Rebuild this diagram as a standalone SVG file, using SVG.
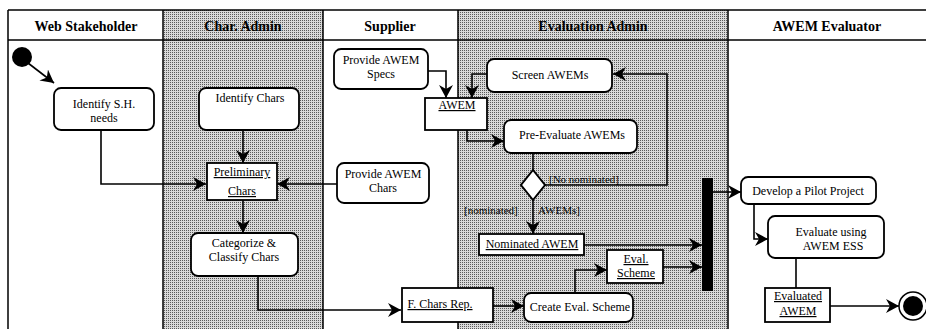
<svg xmlns="http://www.w3.org/2000/svg" width="926" height="329" viewBox="0 0 926 329" font-family="'Liberation Serif', 'Times New Roman', 'DejaVu Serif', serif">
<style>
text{font-family:"Liberation Serif","Times New Roman","DejaVu Serif",serif;fill:#000}
.hd{font-size:14px;font-weight:bold;text-anchor:middle}
.t{font-size:12px;text-anchor:middle}
.s{font-size:11px}
.u{text-decoration:underline}
.box{fill:#fff;stroke:#000;stroke-width:1.8}
.lane{stroke:#000;stroke-width:1.5;fill:none}
.c{fill:none;stroke:#000;stroke-width:1.6}
.ca{fill:none;stroke:#000;stroke-width:1.6;marker-end:url(#ah)}
</style>
<defs>
<pattern id="ht" width="2" height="2" patternUnits="userSpaceOnUse">
<rect width="2" height="2" fill="#d9d9d9"/>
<rect width="1" height="1" fill="#5a5a5a"/>
</pattern>
<marker id="ah" markerUnits="userSpaceOnUse" markerWidth="14" markerHeight="14" refX="13" refY="7" orient="auto">
<path d="M0,0 L13,7 L0,14 L4,7 z" fill="#000"/>
</marker>
</defs>
<rect width="926" height="329" fill="#fff"/>
<g id="lanes">
<rect x="163" y="10" width="160" height="319" fill="url(#ht)"/>
<rect x="458" y="10" width="270" height="319" fill="url(#ht)"/>
<path class="lane" d="M8,10 H926 M8,40 H926 M8,10 V329 M163,10 V329 M323,10 V329 M458,10 V329 M728,10 V329"/>
<text class="hd" x="86" y="31" font-family="Liberation Serif, serif">Web Stakeholder</text>
<text class="hd" x="243" y="31" font-family="Liberation Serif, serif">Char. Admin</text>
<text class="hd" x="390" y="31" font-family="Liberation Serif, serif">Supplier</text>
<text class="hd" x="593" y="31" font-family="Liberation Serif, serif">Evaluation Admin</text>
<text class="hd" x="827" y="31" font-family="Liberation Serif, serif">AWEM Evaluator</text>
</g>
<g id="connectors">
<path class="ca" d="M28,63 L54,83"/>
<path class="ca" d="M101,130 V184 H206"/>
<path class="ca" d="M243,130 V163"/>
<path class="ca" d="M337,184 H277"/>
<path class="ca" d="M243,200 V233"/>
<path class="ca" d="M258,276 V310 H401"/>
<path class="ca" d="M428,71 H446 V98"/>
<path class="ca" d="M487,74 H472 V98"/>
<path class="ca" d="M467,130 V141 H504"/>
<path class="c" d="M533,153 V170"/>
<path class="ca" d="M545,185 H667 V74 H613"/>
<path class="ca" d="M533,200 V234"/>
<path class="ca" d="M584,245 H702"/>
<path class="ca" d="M663,267 H702"/>
<path class="ca" d="M575,293 V270 H607"/>
<path class="ca" d="M493,306 H524"/>
<path class="ca" d="M713,192 H741"/>
<path class="ca" d="M754,204 V239 H768"/>
<path class="c" d="M796,258 V288"/>
<path class="ca" d="M830,306 H899"/>
<text class="s" x="549" y="183">[No nominated]</text>
<text class="s" x="464" y="214">[nominated]</text>
<text class="s" x="538" y="214">AWEMs]</text>
</g>
<g id="start"><circle cx="22" cy="57" r="10" fill="#000"/></g>
<g id="identify-sh">
<rect class="box" x="54" y="88" width="100" height="42" rx="7"/>
<text class="t" x="104" y="108">Identify S.H.</text>
<text class="t" x="104" y="122">needs</text>
</g>
<g id="identify-chars">
<rect class="box" x="199" y="88" width="100" height="42" rx="7"/>
<text class="t" x="250" y="102">Identify Chars</text>
</g>
<g id="preliminary-chars">
<rect class="box" x="207" y="163" width="70" height="37"/>
<text class="t u" x="242" y="176">Preliminary</text>
<text class="t u" x="242" y="195">Chars</text>
</g>
<g id="categorize">
<rect class="box" x="191" y="233" width="107" height="43" rx="7"/>
<text class="t" x="244" y="247">Categorize &amp;</text>
<text class="t" x="244" y="261">Classify Chars</text>
</g>
<g id="provide-specs">
<rect class="box" x="334" y="49" width="94" height="40" rx="7"/>
<text class="t" x="381" y="64">Provide AWEM</text>
<text class="t" x="381" y="78">Specs</text>
</g>
<g id="provide-chars">
<rect class="box" x="337" y="163" width="92" height="40" rx="7"/>
<text class="t" x="383" y="178">Provide AWEM</text>
<text class="t" x="383" y="192">Chars</text>
</g>
<g id="awem">
<rect class="box" x="425" y="98" width="62" height="32"/>
<text class="t u" x="457" y="109">AWEM</text>
</g>
<g id="screen">
<rect class="box" x="487" y="59" width="125" height="33" rx="7"/>
<text class="t" x="550" y="79">Screen AWEMs</text>
</g>
<g id="pre-evaluate">
<rect class="box" x="504" y="120" width="133" height="33" rx="7"/>
<text class="t" x="572" y="139">Pre-Evaluate AWEMs</text>
</g>
<g id="decision">
<path d="M533,170 L545,185 L533,200 L521,185 Z" fill="#fff" stroke="#000" stroke-width="2"/>
</g>
<g id="nominated">
<rect class="box" x="479" y="234" width="105" height="21"/>
<text class="t u" x="532" y="248">Nominated AWEM</text>
</g>
<g id="eval-scheme">
<rect class="box" x="607" y="250" width="56" height="33"/>
<text class="t u" x="636" y="263">Eval.</text>
<text class="t u" x="636" y="277">Scheme</text>
</g>
<g id="create-scheme">
<rect class="box" x="524" y="293" width="109" height="29" rx="7"/>
<text class="t" x="580" y="311">Create Eval. Scheme</text>
</g>
<g id="f-chars">
<rect class="box" x="402" y="288" width="91" height="34"/>
<text class="t u" x="440" y="308">F. Chars Rep.</text>
</g>
<g id="fork"><rect x="702" y="178" width="11" height="113" fill="#000"/></g>
<g id="develop">
<rect class="box" x="741" y="177" width="135" height="27" rx="7"/>
<text class="t" x="808" y="195">Develop a Pilot Project</text>
</g>
<g id="evaluate">
<rect class="box" x="768" y="216" width="116" height="42" rx="7"/>
<text class="t" x="831" y="236">Evaluate using</text>
<text class="t" x="833" y="250">AWEM ESS</text>
</g>
<g id="evaluated">
<rect class="box" x="765" y="288" width="65" height="34"/>
<text class="t u" x="798" y="300">Evaluated</text>
<text class="t u" x="798" y="315">AWEM</text>
</g>
<g id="end">
<circle cx="913" cy="306" r="14" fill="#fff" stroke="#000" stroke-width="1.5"/>
<circle cx="913" cy="306" r="10" fill="#000"/>
</g>
</svg>
